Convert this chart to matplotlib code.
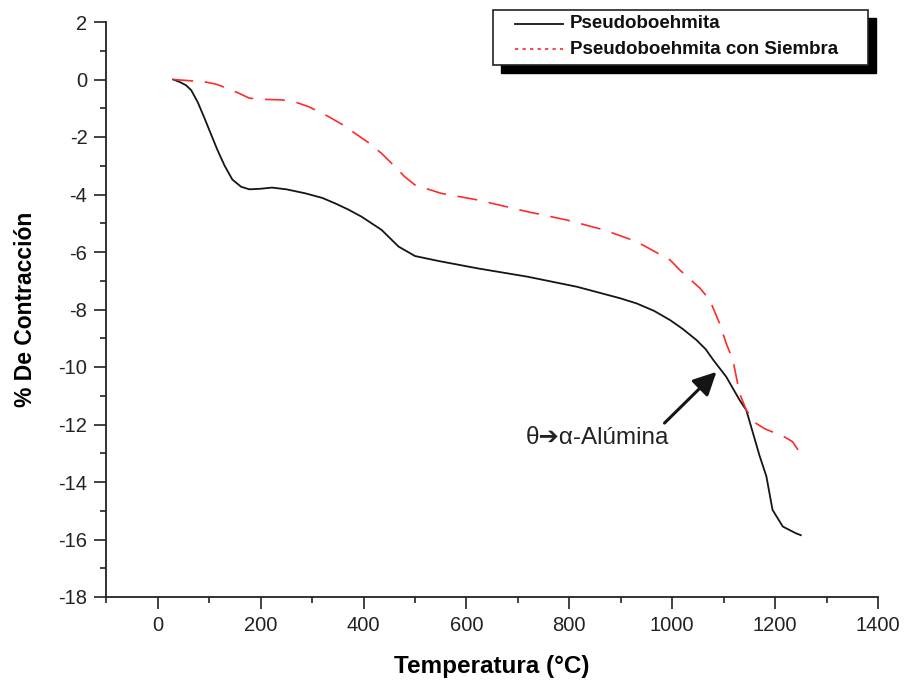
import matplotlib
matplotlib.use("Agg")
import matplotlib.pyplot as plt
from matplotlib.patches import Rectangle
from matplotlib.lines import Line2D

plt.rcParams['font.family'] = ['Liberation Sans', 'DejaVu Sans']
plt.rcParams['axes.unicode_minus'] = False

# ---- data ----
temp_pb = [30, 42, 55, 65, 78, 91, 100, 116, 130, 145, 162, 178, 200, 222, 250,
           287, 320, 345, 370, 396, 435, 468, 500, 545, 622, 719, 815, 899, 931,
           965, 996, 1020, 1047, 1065, 1080, 1105, 1131, 1144, 1157, 1170, 1183,
           1195, 1215, 1240, 1250]
contr_pb = [0, -0.08, -0.2, -0.37, -0.8, -1.35, -1.75, -2.45, -3.0, -3.48, -3.73,
            -3.82, -3.8, -3.76, -3.82, -3.96, -4.12, -4.31, -4.52, -4.77, -5.23,
            -5.81, -6.14, -6.31, -6.57, -6.86, -7.21, -7.61, -7.79, -8.05, -8.37,
            -8.67, -9.06, -9.38, -9.76, -10.34, -11.15, -11.5, -12.3, -13.1, -13.8,
            -14.97, -15.55, -15.78, -15.85]

temp_pbs = [30, 68, 91, 113, 136, 158, 178, 204, 242, 270, 294, 332, 360, 384,
            410, 435, 461, 480, 500, 551, 622, 719, 796, 867, 931, 996, 1015, 1054,
            1073, 1092, 1105, 1118, 1131, 1144, 1163, 1180, 1202, 1220, 1234, 1247,
            1250]
contr_pbs = [0, -0.05, -0.08, -0.16, -0.31, -0.48, -0.65, -0.69, -0.71, -0.8, -0.95,
             -1.29, -1.58, -1.88, -2.2, -2.57, -3.03, -3.38, -3.67, -3.96, -4.19,
             -4.6, -4.89, -5.23, -5.64, -6.28, -6.63, -7.26, -7.67, -8.48, -9.18,
             -9.76, -10.92, -11.5, -11.96, -12.15, -12.31, -12.45, -12.6, -12.95,
             -13.25]

series_labels = ["Pseudoboehmita", "Pseudoboehmita con Siembra"]
x_ticks = [0, 200, 400, 600, 800, 1000, 1200, 1400]
y_ticks = [2, 0, -2, -4, -6, -8, -10, -12, -14, -16, -18]
annot_text = "θ➔α-Alúmina"
annot_xy = (1086, -10.17)
annot_xytext = (985, -11.95)
annot_textpos = (715, -12.47)

W, H = 905, 683
fig = plt.figure(figsize=(W / 100, H / 100), dpi=100)

def fx(px):
    return px / W

def fy(py):
    return 1 - py / H

ax = fig.add_axes([fx(106.3), fy(597), fx(878) - fx(106.3), fy(22) - fy(597)])
ax.set_xlim(-100, 1400)
ax.set_ylim(-18, 2)

ax.plot(temp_pb, contr_pb, color='#151515', lw=1.3)
ax.plot(temp_pbs, contr_pbs, color='#ff2a2a', lw=1.2, linestyle=(0, (12, 7)))

for s in ['top', 'right']:
    ax.spines[s].set_visible(False)
for s in ['left', 'bottom']:
    ax.spines[s].set_color('#222222')
    ax.spines[s].set_linewidth(1.3)

ax.set_xticks(x_ticks)
ax.set_xticks([-100, 100, 300, 500, 700, 900, 1100, 1300], minor=True)
ax.set_yticks(y_ticks)
ax.set_yticks([1, -1, -3, -5, -7, -9, -11, -13, -15, -17], minor=True)
ax.tick_params(which='major', length=8.6, width=1.2, color='#222222',
               labelsize=14.5, labelcolor='#222222', pad=5)
ax.tick_params(which='minor', length=4.6, width=1.2, color='#222222')

ax.set_xlabel("Temperatura (°C)", fontsize=17.5, fontweight='bold', va='center')
ax.xaxis.set_label_coords(0.5, (597 - 667) / 575)
ax.set_ylabel("% De Contracción", fontsize=16.5, fontweight='bold', va='center')
ax.yaxis.set_label_coords((25 - 106.3) / 771.7, 0.5)

ax.annotate('', xy=annot_xy, xytext=annot_xytext,
            arrowprops=dict(arrowstyle='-|>,head_length=0.7,head_width=0.35',
                            mutation_scale=20, lw=2.2, color='#151515',
                            shrinkA=0, shrinkB=0))
ax.text(annot_textpos[0], annot_textpos[1], annot_text, fontsize=17.5,
        va='center', ha='left', color='#222222')

# ---- legend with shadow (drawn in figure pixel coords) ----
lx0, ly0, lx1, ly1 = 493, 10, 868, 65
off = 8
fig.add_artist(Rectangle((fx(lx0 + off), fy(ly1 + off)), fx(lx1) - fx(lx0),
                         fy(ly0) - fy(ly1), transform=fig.transFigure,
                         facecolor='black', edgecolor='black', zorder=5))
fig.add_artist(Rectangle((fx(lx0), fy(ly1)), fx(lx1) - fx(lx0),
                         fy(ly0) - fy(ly1), transform=fig.transFigure,
                         facecolor='white', edgecolor='#222222', lw=1.2, zorder=6))
fig.add_artist(Line2D([fx(515), fx(563)], [fy(24), fy(24)], transform=fig.transFigure,
                      color='#151515', lw=1.3, zorder=7))
fig.add_artist(Line2D([fx(515), fx(563)], [fy(49), fy(49)], transform=fig.transFigure,
                      color='#ff2a2a', lw=1.2, linestyle=(0, (2, 2.5)), zorder=7))
fig.text(fx(570), fy(24), series_labels[0], fontsize=13.5, fontweight='bold',
         va='center', ha='left', zorder=8, color='#111111')
fig.text(fx(570), fy(49), series_labels[1], fontsize=13.5, fontweight='bold',
         va='center', ha='left', zorder=8, color='#111111')

fig.savefig("out.png", dpi=100)
